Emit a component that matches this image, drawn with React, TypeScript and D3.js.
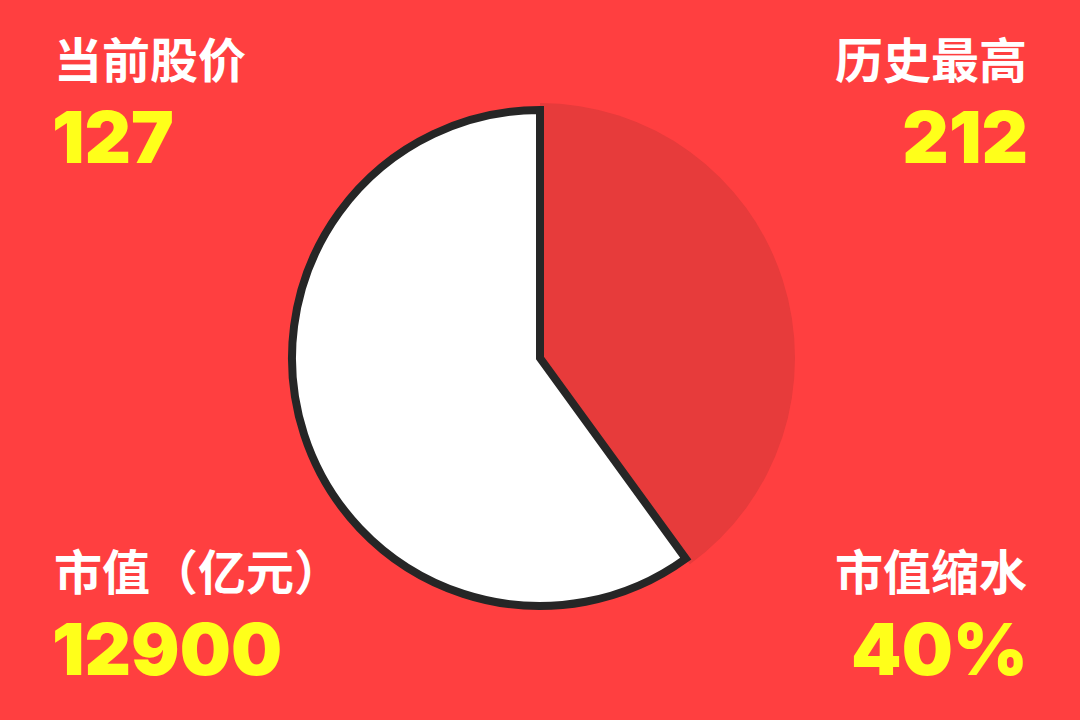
import React from 'react';
import * as d3 from 'd3';

const W = 1080;
const H = 720;

// market value split (percent)
const sliceNames = ['剩余', '缩水'];
const sliceValues = [60, 40];

const labelTexts = ['当前股价', '历史最高', '市值（亿元）', '市值缩水'];
const valueTexts = ['127', '212', '12900', '40%'];

const BG = '#FF3F40';
const SHRINK = '#E73B3B';
const YELLOW = '#FFFF1A';

export default function App() {
  const cx = 540;
  const cy = 358;

  // white slice runs counter-clockwise from 12 o'clock, the shrink slice clockwise
  const pie = d3.pie<number>().sort(null).startAngle(2 * Math.PI).endAngle(0);
  const arcs = pie(sliceValues);

  const whiteArc = d3.arc<d3.PieArcDatum<number>>().innerRadius(0).outerRadius(248);
  const redArc = d3.arc<d3.PieArcDatum<number>>().innerRadius(0).outerRadius(255);

  const cjk = '"Noto Sans CJK SC", "Noto Sans", sans-serif';
  const num = 'Inter, "Noto Sans", sans-serif';

  const corners = [
    { xl: 54, xv: 52, anchor: 'start', yl: 78, yv: 163 },
    { xl: 1027, xv: 1028, anchor: 'end', yl: 78, yv: 163 },
    { xl: 54, xv: 52, anchor: 'start', yl: 590, yv: 675 },
    { xl: 1027, xv: 1028, anchor: 'end', yl: 590, yv: 675 },
  ];

  return (
    <svg
      width={W}
      height={H}
      style={{ position: 'fixed', left: 0, top: 0, display: 'block' }}
    >
      <rect width={W} height={H} fill={BG} />
      <g transform={`translate(${cx},${cy})`}>
        {/* shrink part, no outline */}
        <path d={redArc(arcs[1]) || ''} fill={SHRINK} />
        {/* remaining value */}
        <path
          d={whiteArc(arcs[0]) || ''}
          fill="#fff"
          stroke="#262626"
          strokeWidth={8}
          strokeLinejoin="miter"
        />
      </g>
      {corners.map((c, i) => (
        <g key={i}>
          <text
            x={c.xl}
            y={c.yl}
            textAnchor={c.anchor as any}
            fill="#fff"
            fontFamily={cjk}
            fontWeight={700}
            fontSize={48}
          >
            {labelTexts[i]}
          </text>
          <text
            x={c.xv}
            y={c.yv}
            textAnchor={c.anchor as any}
            fill={YELLOW}
            fontFamily={num}
            fontWeight={900}
            fontSize={72}
          >
            {valueTexts[i]}
          </text>
        </g>
      ))}
    </svg>
  );
}
